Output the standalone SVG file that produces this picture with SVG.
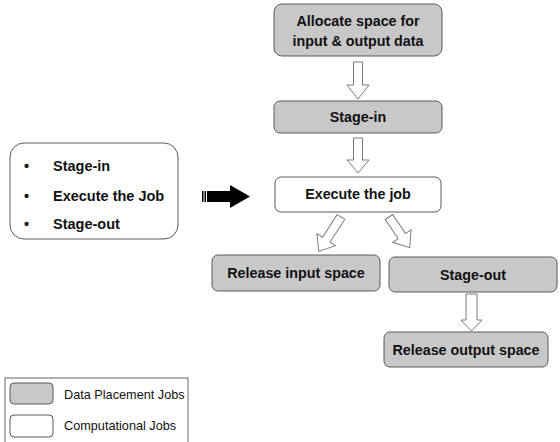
<svg xmlns="http://www.w3.org/2000/svg" width="560" height="442" viewBox="0 0 560 442">
<style>
.dp{fill:#c8c8c8;stroke:#5a5a5a;stroke-width:1}
.cj{fill:#ffffff;stroke:#5a5a5a;stroke-width:1}
.t{font-family:"Liberation Sans",Arial,sans-serif;font-weight:bold;font-size:14.3px;fill:#111;text-anchor:middle}
.l{font-family:"Liberation Sans",Arial,sans-serif;font-weight:bold;font-size:14.5px;fill:#111}
.g{font-family:"Liberation Sans",Arial,sans-serif;font-size:12.7px;fill:#111}
.ha{fill:#fff;stroke:#7a7a7a;stroke-width:1}
</style>
<rect width="560" height="442" fill="#fff"/>
<g id="allocate"><rect class="dp" x="274" y="4" width="168" height="52" rx="8"/><text class="t" x="358" y="26">Allocate space for</text><text class="t" x="358" y="46">input &amp; output data</text></g>
<g id="stagein"><rect class="dp" x="274" y="101" width="168" height="32" rx="6"/><text class="t" x="358" y="122">Stage-in</text></g>
<g id="execute"><rect class="cj" x="275" y="177" width="166" height="35" rx="6"/><text class="t" x="358" y="199">Execute the job</text></g>
<g id="relin"><rect class="dp" x="212" y="255" width="168" height="36" rx="6"/><text class="t" x="296" y="278">Release input space</text></g>
<g id="stageout"><rect class="dp" x="389" y="257" width="168" height="35" rx="6"/><text class="t" x="473" y="280">Stage-out</text></g>
<g id="relout"><rect class="dp" x="384" y="332" width="164" height="35" rx="6"/><text class="t" x="466" y="355">Release output space</text></g>
<g id="steps"><rect class="cj" x="10" y="143" width="168" height="96" rx="14"/>
<text class="l" x="24" y="171">•</text><text class="l" x="53" y="171">Stage-in</text>
<text class="l" x="24" y="201">•</text><text class="l" x="53" y="201">Execute the Job</text>
<text class="l" x="24" y="229">•</text><text class="l" x="53" y="229">Stage-out</text></g>
<g id="connectors">
<polygon class="ha" points="353.5,62 362.5,62 362.5,85 369,85 358,99 347,85 353.5,85"/>
<polygon class="ha" points="353.5,138 362.5,138 362.5,160 369,160 358,173 347,160 353.5,160"/>
<polygon class="ha" points="466,294 477,294 477,320 482,320 471.5,331 461,320 466,320"/>
<polygon class="ha" transform="translate(341,217) rotate(33)" points="-4.5,0 4.5,0 4.5,27 11,27 0,41 -11,27 -4.5,27"/>
<polygon class="ha" transform="translate(389,217) rotate(-34)" points="-4.5,0 4.5,0 4.5,23 11,23 0,37 -11,23 -4.5,23"/>
<g fill="#000">
<rect x="202" y="191" width="1.5" height="11"/>
<rect x="204.5" y="191" width="1.5" height="11"/>
<polygon points="207,191 230,191 230,185 250,196.5 230,208 230,202 207,202"/>
</g>
</g>
<g id="legend">
<rect x="5" y="378" width="183" height="70" fill="#fff" stroke="#666" stroke-width="1"/>
<rect class="dp" x="10" y="383" width="43" height="21" rx="4"/>
<text class="g" x="64" y="399">Data Placement Jobs</text>
<rect class="cj" x="10" y="415" width="43" height="22" rx="4"/>
<text class="g" x="64" y="430">Computational Jobs</text>
</g>
</svg>
